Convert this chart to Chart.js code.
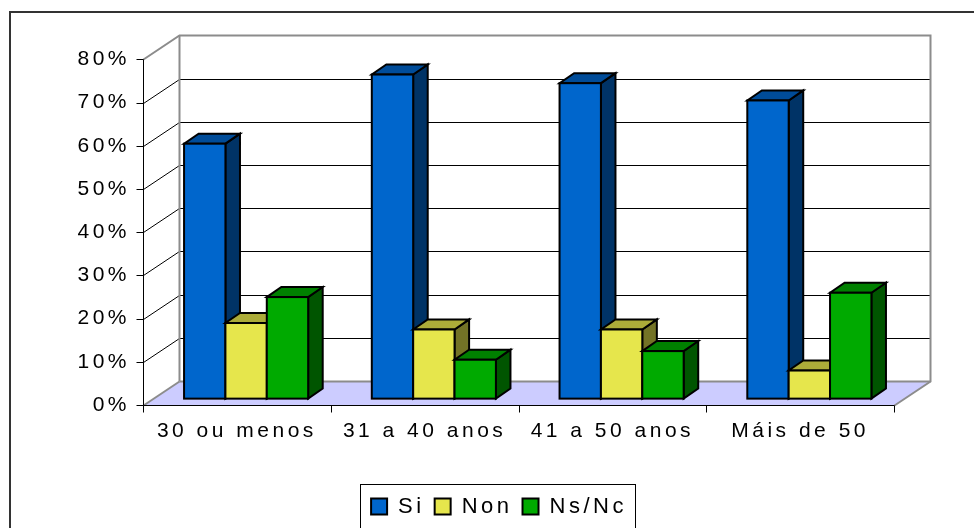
<!DOCTYPE html>
<html lang="gl">
<head>
<meta charset="utf-8">
<title>Grupos de idade</title>
<script src="https://cdn.jsdelivr.net/npm/chart.js@4.4.1/dist/chart.umd.min.js"></script>
<style>
	html, body { margin: 0; padding: 0; background: #fff; }
	#grafico { display: block; }
</style>
</head>
<body>
<canvas id="grafico" width="974" height="528"></canvas>
<script>
var categorias = ["30 ou menos", "31 a 40 anos", "41 a 50 anos", "Máis de 50"];
var rotulosSeries = ["Si", "Non", "Ns/Nc"];
var valoresSi = [59, 75, 73, 69];
var valoresNon = [17.5, 16, 16, 6.5];
var valoresNsNc = [23.5, 9, 11, 24.5];
var marcasY = [0, 10, 20, 30, 40, 50, 60, 70, 80];

// cores de cada face das caixas: frente, topo e lado
var coresFrente = ["#0066CC", "#E6E64C", "#00AA00"];
var coresTopo = ["#004C99", "#ACAC39", "#008000"];
var coresLado = ["#003366", "#737326", "#005500"];

// perspectiva: deslocamento do fundo em px e faixa de profundidade das barras
var PROF_X = 35.5;
var PROF_Y = -24.5;
var BARRA_INI = 0.26;
var BARRA_FIM = 0.67;
var ESPACO_LETRAS = "3.5px";

Chart.defaults.font.family = "'Liberation Sans', Arial, sans-serif";
Chart.defaults.font.size = 21;
Chart.defaults.color = "#000";

function linha(ctx, x1, y1, x2, y2) {
	ctx.beginPath();
	ctx.moveTo(x1, y1);
	ctx.lineTo(x2, y2);
	ctx.stroke();
}

function px(v) {
	return Math.round(v) + 0.5;
}

function desenharParedes(chart) {
	var ctx = chart.ctx;
	var area = chart.chartArea;
	var escalaY = chart.scales.y;
	var escalaX = chart.scales.x;
	var esq = px(area.left);
	var dir = px(area.right);
	var topo = px(escalaY.getPixelForValue(marcasY[marcasY.length - 1]));
	var base = px(escalaY.getPixelForValue(marcasY[0]));
	var esqF = px(area.left + PROF_X);
	var dirF = px(area.right + PROF_X);
	var topoF = px(topo + PROF_Y);
	var baseF = px(base + PROF_Y);

	ctx.save();

	// chão
	ctx.fillStyle = "#CCCCFF";
	ctx.beginPath();
	ctx.moveTo(esq, base);
	ctx.lineTo(dir, base);
	ctx.lineTo(dirF, baseF);
	ctx.lineTo(esqF, baseF);
	ctx.closePath();
	ctx.fill();

	// linhas de grade na parede lateral e no fundo
	ctx.strokeStyle = "#000";
	ctx.lineWidth = 1;
	marcasY.slice(1, -1).forEach(function (v) {
		var y = px(escalaY.getPixelForValue(v));
		var yF = px(y + PROF_Y);
		linha(ctx, esq, y, esqF, yF);
		linha(ctx, esqF, yF, dirF, yF);
	});

	// bordas cinzentas das paredes e do chão
	ctx.strokeStyle = "#8C8C8C";
	ctx.lineWidth = 2;
	ctx.beginPath();
	ctx.moveTo(esq, topo);
	ctx.lineTo(esqF, topoF);
	ctx.lineTo(dirF, topoF);
	ctx.lineTo(dirF, baseF);
	ctx.lineTo(dir, base);
	ctx.stroke();
	linha(ctx, esqF, topoF, esqF, baseF);
	linha(ctx, esq, base, esqF, baseF);
	linha(ctx, esqF, baseF, dirF, baseF);

	// eixos da frente com as marcas
	ctx.strokeStyle = "#000";
	ctx.lineWidth = 1;
	linha(ctx, esq, topo, esq, base);
	linha(ctx, esq, base, dir, base);
	marcasY.forEach(function (v) {
		var y = px(escalaY.getPixelForValue(v));
		linha(ctx, esq - 7, y, esq, y);
	});
	var larguraCat = (escalaX.right - escalaX.left) / categorias.length;
	for (var k = 0; k <= categorias.length; k++) {
		var x = px(escalaX.left + k * larguraCat);
		linha(ctx, x, base, x, base + 7);
	}

	ctx.restore();
}

function desenharCaixa(ctx, x0, x1, yTopo, yBase, d) {
	var dx = PROF_X * (BARRA_FIM - BARRA_INI);
	var dy = PROF_Y * (BARRA_FIM - BARRA_INI);

	ctx.lineWidth = 2;
	ctx.lineJoin = "miter";
	ctx.strokeStyle = "#000";

	// lado direito
	ctx.fillStyle = coresLado[d];
	ctx.beginPath();
	ctx.moveTo(x1, yTopo);
	ctx.lineTo(x1 + dx, yTopo + dy);
	ctx.lineTo(x1 + dx, yBase + dy);
	ctx.lineTo(x1, yBase);
	ctx.closePath();
	ctx.fill();
	ctx.stroke();

	// topo
	ctx.fillStyle = coresTopo[d];
	ctx.beginPath();
	ctx.moveTo(x0, yTopo);
	ctx.lineTo(x1, yTopo);
	ctx.lineTo(x1 + dx, yTopo + dy);
	ctx.lineTo(x0 + dx, yTopo + dy);
	ctx.closePath();
	ctx.fill();
	ctx.stroke();

	// frente
	ctx.fillStyle = coresFrente[d];
	ctx.fillRect(x0, yTopo, x1 - x0, yBase - yTopo);
	ctx.strokeRect(x0, yTopo, x1 - x0, yBase - yTopo);
}

function desenharBarras(chart) {
	var ctx = chart.ctx;
	var desX = PROF_X * BARRA_INI;
	var desY = PROF_Y * BARRA_INI;
	ctx.save();
	// por categoria, da esquerda para a direita, para o lado ficar escondido pela vizinha
	for (var i = 0; i < categorias.length; i++) {
		for (var d = 0; d < chart.data.datasets.length; d++) {
			var el = chart.getDatasetMeta(d).data[i];
			var p = el.getProps(["x", "y", "base", "width"], true);
			var x0 = p.x - p.width / 2 + desX;
			var x1 = p.x + p.width / 2 + desX;
			desenharCaixa(ctx, x0, x1, p.y + desY, p.base + desY, d);
		}
	}
	ctx.restore();
}

function desenharMolduras(chart) {
	var ctx = chart.ctx;
	ctx.save();
	ctx.strokeStyle = "#333";
	ctx.lineWidth = 2;
	ctx.strokeRect(10, 12, 1100, 600);

	var caixas = chart.legend.legendHitBoxes;
	var ultima = caixas[caixas.length - 1];
	var x0 = px(caixas[0].left - 11);
	var x1 = px(ultima.left + ultima.width + 8);
	var yc = caixas[0].top + caixas[0].height / 2;
	ctx.strokeStyle = "#000";
	ctx.lineWidth = 1;
	ctx.strokeRect(x0, px(yc - 22.5), x1 - x0, 80);
	ctx.restore();
}

var plugin3d = {
	id: "barras3d",
	beforeUpdate: function (chart) {
		chart.ctx.letterSpacing = ESPACO_LETRAS;
	},
	beforeDraw: function (chart) {
		chart.ctx.letterSpacing = ESPACO_LETRAS;
		desenharParedes(chart);
	},
	beforeDatasetsDraw: function (chart) {
		desenharBarras(chart);
		return false;
	},
	afterDraw: function (chart) {
		desenharMolduras(chart);
	},
};

var valores = [valoresSi, valoresNon, valoresNsNc];

var config = {
	type: "bar",
	data: {
		labels: categorias,
		datasets: rotulosSeries.map(function (rotulo, d) {
			return {
				label: rotulo,
				data: valores[d],
				backgroundColor: coresFrente[d],
				borderColor: "#000",
				borderWidth: 2,
				categoryPercentage: 0.661,
				barPercentage: 1,
			};
		}),
	},
	options: {
		responsive: false,
		animation: false,
		devicePixelRatio: 1,
		layout: {
			padding: { left: 24, right: 0, top: 59.3, bottom: 0.5 },
		},
		scales: {
			x: {
				grid: { display: false, drawTicks: false },
				border: { display: false },
				ticks: { padding: 14, maxRotation: 0, autoSkip: false },
				afterFit: function (escala) {
					escala.height = 80.5;
				},
			},
			y: {
				min: marcasY[0],
				max: marcasY[marcasY.length - 1],
				grid: { display: false, drawTicks: false },
				border: { display: false },
				ticks: {
					stepSize: marcasY[1] - marcasY[0],
					padding: 13,
					callback: function (v) {
						return v + "%";
					},
				},
				afterFit: function (escala) {
					escala.width = 119;
				},
			},
			// eixo vazio à direita: reserva o espaço da profundidade do fundo
			margemDireita: {
				type: "linear",
				axis: "y",
				position: "right",
				grid: { display: false, drawTicks: false },
				border: { display: false },
				ticks: { display: false },
				afterFit: function (escala) {
					escala.width = 80;
				},
			},
		},
		plugins: {
			legend: {
				position: "bottom",
				labels: { boxWidth: 16, boxHeight: 16, padding: 10, font: { size: 22 } },
			},
			tooltip: { enabled: false },
		},
	},
	plugins: [plugin3d],
};

var grafico = new Chart(document.getElementById("grafico"), config);
</script>
</body>
</html>
